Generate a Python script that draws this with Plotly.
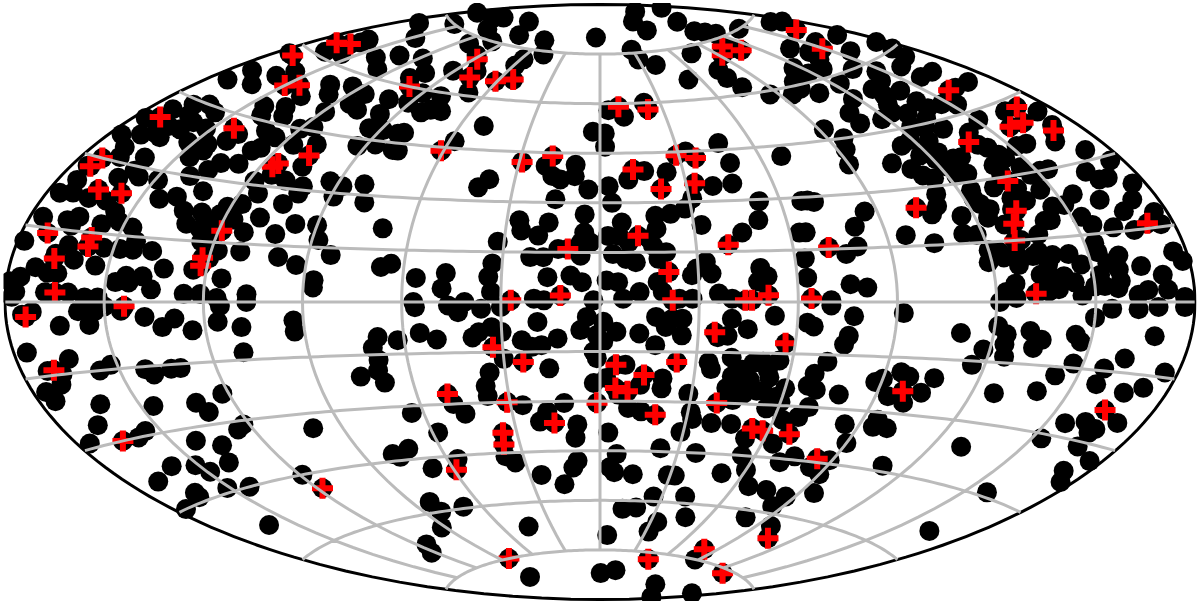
import numpy as np
import plotly.graph_objects as go

# sky positions as (lon, lat) in degrees
flagged_points = [
    (-171,63),(-165,64),(-172,58),(-150,53),(-145,54),(-172,40),(-143,42),(-115,36),(-116,35),(-107,39),
    (-174,28),(-173,30),(-165,24),(-157,24),(-172,14),(-158,14),(-158,12),(-119,18),(-122,11),(-122,9),
    (-167,9),(-165,2),(-144,-1),(-174,-3),(-170,-14),(-165,-30),(-118,-49),(-61,44),(-100,60),(-77,65),
    (-88,70),(-61,65),(-52,66),(-29,42),(-18,44),(-10,16),(-27,0.5),(-12,2),(9,59),(23,58),
    (29,44),(36,43),(12,40),(21,34),(33,35.5),(12,20),(21,9),(22,0.5),(44,0.5),(46,0.5),
    (51,2),(40,17),(103,73),(92,71),(109,71),(165,70),(149,65.5),(158,50),(170,43),(164,40),
    (158,40),(170,37),(138,39),(138,29),(134,22),(131,19),(129,15),(132,2),(172,16),(103,25),
    (71,15.5),(64,1),(57,-12),(35,-9),(24,-18),(5,-19),(14,-22),(5,-26),(9,-27),(39,-30),
    (19,-34),(-1,-30.5),(-31,-30),(-50,-27),(-33,-13.5),(-24,-18),(-16,-36.5),(-35,-39),(-36,-42.5),(-59,-49),
    (54,-37),(58,-37.5),(68,-38),(98,-24),(165,-23),(84,-44),(106,-66),(48,-77),(81,-72),(130,-76),
    (-83,-75),
]

plain_points = [
    # upper left
    (-165,61),(-157,62),(-164,66),(-163,65),(-140,64),(-128,62),(-132,66),(-175,58),(-157,56),(-137,52),
    (-136,49),(-144,48),(-140,46),(-132,47),(-134,56),(-128,54),(-124,57),(-114,56),(-114,53),(-108,52),
    (-119,50),(-101,56),(-97,52),(-95,48),(-89,48),(-93,43),(-87,44),(-79,43),(-82,47.5),(-173,50),
    (-162,51),(-172,53),(-160,54),(-168,44),(-163,45),(-157,44),(-164,42),(-159,41),(-160,39),(-165,39),
    (-166,37),(-176,35),(-170,36),(-170,33),(-168,31),(-160,32),(-139,41),(-140,39),(-131,43),(-125,42),
    (-152,37),(-145,37.5),(-146,34),(-144,36),(-134,34),(-136,32),(-128,34.5),(-128,38),(-126,39),(-140,30),
    (-132,27),(-116,46),(-120,45),(-116,41),(-108,42),(-106,36),(-118,31),(-114,33),(-108,32),(-101,31),
    (-114,28),(-101,29),(-104,26),(-93,33),(-88,32),(-81,33),(-89,29),(-78,28),(-97,21),(-102,18),
    (-90,21),(-88,17),(-83,13),(-69,21),(-99,12),(-93,10),(-87,6),(-87,4),(-67,10),(-64,11),
    (-149,28),(-144,24),(-139,25),(-134,22),(-128,22),(-131,19),(-126,18),(-121,24),(-117,25),(-122,22),
    (-117,21),(-124,19),(-112,18),(-109,22),(-121,16),(-124,15),(-118,13),(-111,13),(-120,11),(-124,8),
    (-115,6),(-126,2),(-121,2),(-116,1),(-107,2),(-156,28),(-159,29),(-162,27),(-175,28),(-174,25),
    (-176,22),(-172,22.5),(-166,22),(-160,22),(-155,20),(-152,18),(-157,17),(-147,17),(-144,14),(-148,12),
    (-144,12),(-138,12),(-176,17),(-168,17),(-166,16),(-165,18),(-178,12),(-164,12),(-153,12),(-167,10),
    (-161,9),(-154,8),(-176,5),(-172,7),(-179,4),(-165,6),(-168,6),(-133,8),(-144,6),(-139,6),
    (-147,4.5),(-143,4.5),(-136,3),(-161,2),(-168,2),(-156,1),(-152,1),(-177,2),(-178,1),
    (-172,42),(-163,36.5),(-152,40.5),(-176,39),
    # lower left
    (-172,-2),(-175,-2.5),(-164,-5),(-155,-5),(-158,-2),(-153,-2),(-150,-1),(-145,-2),(-138,-3.5),(-133,-6),
    (-129,-4),(-124,-7),(-116,-5),(-115,-1),(-109,-6.5),(-107,0),(-93,-5),(-93,-8),(-68,-10),(-70,-13),
    (-62,-11),(-110,-13),(-69,-16.5),(-76,-21),(-70,-19.5),(-69,-23),(-176,-10),(-164,-12),(-172,-14),(-168,-15),
    (-170,-17),(-156,-15),(-152,-14),(-142,-15.6),(-140,-17),(-134,-16),(-131,-16),(-176,-18),(-175,-20),(-162,-22),
    (-146,-24),(-132,-24.5),(-122,-23),(-130,-27),(-122,-31),(-125,-32),(-100,-34),(-168,-26),(-176,-29),(-159,-30),
    (-155,-29),(-142,-33),(-135,-35),(-159,-37),(-170,-39),(-151,-38),(-149,-40),(-139,-39),(-119,-45),(-151,-44),
    (-143,-45),(-164,-43),(-165,-44),(-176,-45),(-160,-53),(-79,-43),
    # top centre
    (-172,72),(-148,70),(-156,75),(-175,78),(-127,77),(-152,79),(-148,80),(-116,81.5),(-91,78),(-60,78),
    (-47,74),(-101,75),(-112,73),(-93,71),(-91,66),(-69,61),(-78,67),(-58,72),(-59,70),(-118,67),
    (-106,62),(-103,64),(-90,59),(-80,59),(-73,55),(-81,54),(-78,55),(-91,56),(-50,52),(-80,48),
    (-58,47),(-77,43),(-20,41),(-17,38),(-14,37),(-9,41.5),(-9,38),(-4,34),(-15,31),(-42,34),
    (-39,36.5),(-5,80),(120,86),(68,84),(66,81),(170,84),(121,81),(29,76),(30,73),(40,71),
    (110,78),(115,77),(74,73),(120,76),(143,75),(104,72),(76,67.5),(75,65),(53,66),(77,62),
    (86,59),(170,73),(175,72),(136,68),(116,64),(105,61),(96,58),(4,58),(11,56),(22,60),
    (-3,51.5),(2,51),(2,47),(33,45),(47,47),(68,42),(48,41),(46,35),(16,39.5),(10,37),
    (3,35),(24,39),(39,34.5),(31,31),(4,30),(-5,26.5),(53,29.5),(51,24),(45,20.5),(67,29),
    (63,20),(-26,24.5),(-16.5,24),(-25,21.5),(-19.5,20),(-5,21),(-32,18),(-13,16),(-17.5,13.5),(-21.5,13.5),
    (-6,14),(-6,18),(-3,18),(-33,11.5),(-34,7.5),(-16,7.5),(-9,8),(-5.5,6),(-56,7),(-47,8.5),
    (-48,4),(-33,3),(-41,0),(-56.5,0),(-20,1),(-17,0.5),(-2,0.5),(2,6.5),(5.5,6),(7,24),
    (2.5,20),(6,20),(18,26),(23,26.5),(28,28),(18,22),(15.5,19),(9,18),(4,14.5),(11,12),
    (8,13),(16.5,17),(20.5,15),(18,13),(32.5,23),(17.5,6),(19,3),(12,3),(7,1),(32.5,12),
    (29.5,10),(34,8.5),(28,8),(49,10),(51,7.5),(48,6),(36,2.5),(28,1),(24,1),(40,1),
    # upper right
    (140,66),(136,64),(128,62),(118,62),(172,66),(155,67),(157,63),(176,62),(174,60),(140,60),
    (123,58),(108,57),(103,59),(118,54),(132,55),(141,56),(170,58),(160,57),(158,54),(166,54),
    (162,50),(170,50),(147,58),(152,47),(147,48),(141,53),(132,53),(140,50),(140,48),(130,48),
    (125,49),(118,48),(109,51),(108,48),(92,48),(96,45),(93,42),(90,38),(135,43),(129,44),
    (125,41),(119,42),(114,41),(117,38),(105,37),(110,35),(112,33),(115,32),(112,28),(110,25),
    (107,23),(142,41),(151,43),(127,36),(130,36),(127,32),(123,32),(140,38),(142,37),(143,35),
    (138,33),(144,34),(132,28),(139,27),(147,29.5),(146,26),(139,24),(135,25),(154,30),(151,30),
    (124,28),(124,24.5),(126,23),(124,21),(116,22),(123,26),(164,43),(174,41),(172,38),(166,35),
    (156,36),(152,36),(172,32),(176,29),(165,28),(167,26),(170,26),(162,22),(176,24),(155,24),
    (150,22),(146,22),(141,19),(143,19),(172,21),(167,19),(153,19),(155,17),(161,16),(167,15),
    (176,18),(176,15.5),(128,19),(137,16),(114,17.5),(118,17),(131,15),(120,13),(119,10),(124,11),
    (128,9),(133,11),(139,11),(144,11),(137,9),(141,6),(134,6.5),(139,3),(153,13),(147,8.5),
    (152,6),(159,10),(158,7),(165,7.5),(176,10),(178,8),(171,5.5),(157,3),(166,2.5),(172,2.5),
    (163,1.5),(153,3.5),(146,1.5),(177,1),(123,2.5),(126,4.5),(136,2.5),(69,29),(71,28.5),(86,25),
    (81,21),(65,20),(96,18),(104,15.5),(76,13.5),(80,15.5),(63,12.5),(63,7),(76,5),(81,4),
    (70,0.5),
    (128,51),(134,46),(125,45),(124,38),(121,36.5),(122,34.5),(138,31),(146,31.5),(133,22.5),(123,12.5),
    (128,12),(135,12),(137,6),(135,3.5),(153,11),(155,8.5),(158,4.5),(150,3.5),(144,4.5),(133,2.5),
    (121,0),(126,1),
    # lower centre
    (-56,-1.5),(-46,-1),(-43,-3),(-36,-2),(-30,-1.5),(-19,-6),(-55,-9),(-50,-11),(-39,-10.5),(-37,-9),
    (-33,-7.5),(-30,-9),(-24,-11.5),(-18,-13),(-13,-11),(-21,-13.5),(-30,-17),(-16,-20),(-35,-21),(-37,-25),
    (-37,-28),(-49,-30),(-46,-33),(-64,-32),(-6,-8.5),(-4,-4.5),(1,-6),(5,-9),(-1,-10),(-2,-15),
    (1,-12),(-1,-17),(12,-9.5),(17,-13),(-2,-24.5),(2,-23),(8,-19),(20,-23),(20,-26),(13,-25),
    (6,-28),(34,-18),(35,-20),(29,-27.5),(20,-7.5),(25,-10),(22,-5),(25,-5),(17,-4.5),(40,-5),
    (45,-8),(53,-4),(36,-10.5),(39,-10),(41,-16.5),(48,-18),(51,-17.5),(56,-17),(42,-22),(48,-23),
    (54,-22),(47,-27),(51,-26),(60,-25),(58,-27.5),(44,-29),(56,-31),(63,-34),(9.5,-32),(14,-33),
    (-26,-31),(-12,-30.5),(-18,-33),(-21,-36),(-8,-37),(-9,-41),(3,-39.5),(-58,-38),(32,-35),(31,-33),
    (39,-36),(29,-39),(46,-36),(53,-40),(64,-41),(55,-45),(71,-46),(75,-44),(23,-44),(37,-45),
    (6.5,-46),(4,-50),(6,-51.5),(14,-52),(-9,-48),(-11,-50),(-25,-52),(-16,-55),(29,-52),(32,-52),
    (51,-50.5),(60,-49),(66,-53.5),(26,-58.5),(41,-58),(19,-62),(12,-62.5),(48,-64),(75,-54),(86,-55),
    (85,-58),(79,-62),(97,-63),(34,-66),(32,-69),(5,-70.5),(-72,-42),(-77,-44),(-56,-46),(-68,-48),
    (-37,-46),(-34,-48),(-82,-57),(-82,-60),(-69,-59.5),(-92,-64),(-115,-67),(-122,-69),(-44,-67),(-99,-80.5),
    (1,-82),(21,-81),(106,-83),(170,-85),(170,-81),(87,-75),
    (45,-20),(46,-24),(53,-20),(53,-26),(41,-25.5),(60,-29),
    # lower right
    (92,-3),(77,-4),(63,-6),(65,-7),(70,-1),(76,-9.5),(75,-12),(71,-17),(68,-20.5),(67,-24),
    (70,-25),(78,-26),(70,-30),(68,-33),(110,-8),(121,-6),(124,-8),(124,-10.5),(125,-13.5),(118,-12),
    (116,-16),(131,-7),(135,-9),(133,-11),(145,-7.5),(147,-9),(150,-3.5),(155,-1.5),(163,-1.5),(169,-1),
    (177,-1),(169,-7),(162,-12),(147,-14),(157,-14.5),(176,-14),(143,-17),(157,-18),(167,-19),(172,-17.5),
    (140,-21),(127,-22.5),(88,-22),(90,-21),(95,-19),(98,-20),(106,-20),(94,-25.6),(104,-24),(100,-27),
    (85,-34),(90,-39),(95,-32),(95,-34),(100,-34),(156,-27),(162,-26),(166,-28),(167,-27),(172,-25),
    (153,-31),(167,-31),(176,-33),(130,-36),(172,-36),(176,-38),(89,-44),(84,-46.5),(90,-48),(96,-53),
    (110,-43.5),(158,-44),(164,-54),
]

lat_ticks = [-75, -60, -45, -30, -15, 0, 15, 30, 45, 60, 75]
lon_ticks = [-150, -120, -90, -60, -30, 0, 30, 60, 90, 120, 150]
lon_cap = 75  # meridians stop short of the poles

flag_lon, flag_lat = zip(*flagged_points)
plain_lon, plain_lat = zip(*plain_points)

# graticule, drawn as a trace so it sits above the markers
grid_lon, grid_lat = [], []
for lat in lat_ticks:
    sweep = np.linspace(-179.9, 179.9, 145)
    grid_lon += list(sweep) + [None]
    grid_lat += [lat] * len(sweep) + [None]
for lon in lon_ticks:
    sweep = np.linspace(-lon_cap, lon_cap, 61)
    grid_lon += [lon] * len(sweep) + [None]
    grid_lat += list(sweep) + [None]

fig = go.Figure()
fig.add_trace(go.Scattergeo(
    lon=list(plain_lon) + list(flag_lon),
    lat=list(plain_lat) + list(flag_lat),
    mode="markers",
    marker=dict(color="black", size=20, line=dict(width=0)),
))
fig.add_trace(go.Scattergeo(
    lon=flag_lon,
    lat=flag_lat,
    mode="markers",
    marker=dict(symbol="cross-thin", color="red", size=15, line=dict(color="red", width=6)),
))
fig.add_trace(go.Scattergeo(
    lon=grid_lon,
    lat=grid_lat,
    mode="lines",
    line=dict(color="#bbbbbb", width=3),
))

fig.update_layout(
    width=1200,
    height=604,
    margin=dict(l=5, r=5, t=4, b=4),
    showlegend=False,
    paper_bgcolor="white",
    geo=dict(
        projection_type="aitoff",
        showland=False,
        showocean=False,
        showlakes=False,
        showrivers=False,
        showcountries=False,
        showcoastlines=False,
        showframe=True,
        framecolor="black",
        framewidth=3,
        bgcolor="white",
        lonaxis=dict(showgrid=False, range=[-180, 180]),
        lataxis=dict(showgrid=False, range=[-90, 90]),
    ),
)

# drop the browser's default body margin so the plot starts at the window corner
fig.write_html(
    "out.html",
    config={"displayModeBar": False},
    post_script="document.body.style.margin = '0';",
)
